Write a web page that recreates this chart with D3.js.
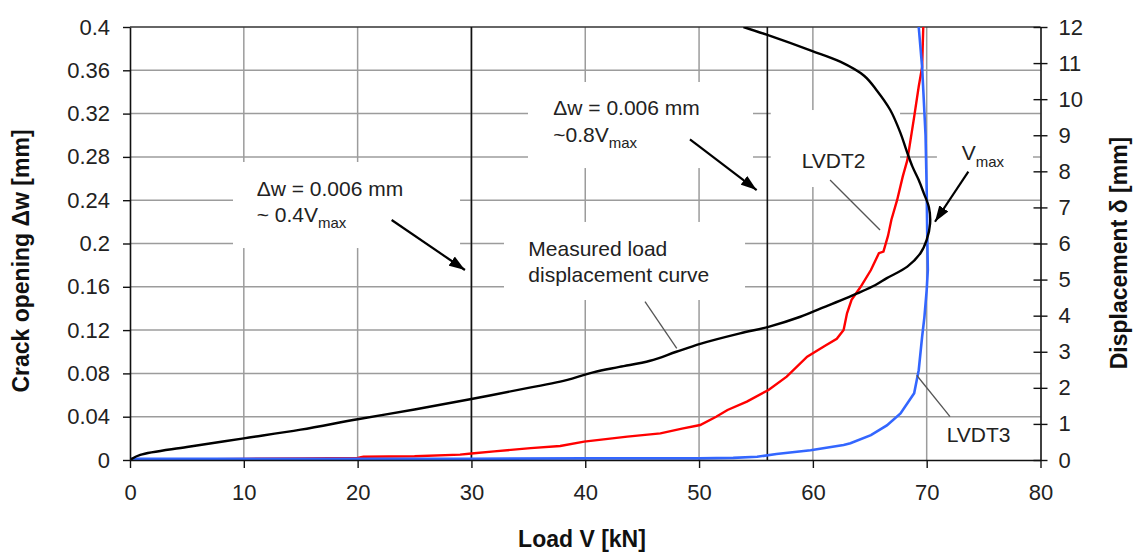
<!DOCTYPE html>
<html>
<head>
<meta charset="utf-8">
<script src="https://cdn.jsdelivr.net/npm/d3@7"></script>
<style>
  html, body { margin: 0; padding: 0; background: #fff; }
  svg { display: block; font-family: "Liberation Sans", Arial, sans-serif; }
</style>
</head>
<body>
<svg id="chart" width="1134" height="552"></svg>
<script>
// ---------- data ----------
const xTicks = [0, 10, 20, 30, 40, 50, 60, 70, 80];
const xTickLabels = ["0", "10", "20", "30", "40", "50", "60", "70", "80"];
const leftTicks = [0, 0.04, 0.08, 0.12, 0.16, 0.2, 0.24, 0.28, 0.32, 0.36, 0.4];
const leftTickLabels = ["0", "0.04", "0.08", "0.12", "0.16", "0.2", "0.24", "0.28", "0.32", "0.36", "0.4"];
const rightTicks = [0, 1, 2, 3, 4, 5, 6, 7, 8, 9, 10, 11, 12];
const rightTickLabels = ["0", "1", "2", "3", "4", "5", "6", "7", "8", "9", "10", "11", "12"];

// Measured load-displacement curve (load V [kN], displacement δ [mm], right axis)
const measuredLoad = [0, 0.9, 5, 10, 15, 20, 25, 30, 35, 37.8, 40.7, 43, 45.7, 48, 50.1, 53.6, 56.1, 58.9, 60.7, 63.9, 65.5, 66.5, 68.3, 69.45, 70.0, 70.3, 70.2, 69.75, 69.3, 68.75, 68.2, 67.7, 66.8, 65.6, 64.5, 62.4, 59.9, 56.0, 53.9];
const measuredDisp = [0, 0.14, 0.36, 0.60, 0.84, 1.13, 1.40, 1.69, 2.0, 2.17, 2.43, 2.58, 2.75, 3.0, 3.22, 3.51, 3.69, 3.97, 4.2, 4.62, 4.85, 5.04, 5.36, 5.73, 6.10, 6.55, 7.0, 7.39, 7.76, 8.13, 8.6, 9.06, 9.70, 10.25, 10.65, 11.04, 11.34, 11.78, 12.0];

// LVDT2 (load V [kN], crack opening Δw [mm], left axis)
const lvdt2Load = [0, 5, 10, 15, 20, 20.5, 25, 29, 30, 32, 35.2, 37.8, 39.9, 43.7, 46.6, 48.5, 50.1, 51.5, 52.5, 54.2, 56.1, 57.7, 59.5, 61.0, 62.1, 62.7, 63.0, 63.4, 64.2, 65.1, 65.8, 66.2, 66.6, 66.9, 67.4, 67.9, 68.3, 68.9, 69.3, 69.6, 69.7];
const lvdt2Open = [0, 0.0005, 0.001, 0.0015, 0.002, 0.003, 0.0035, 0.005, 0.006, 0.008, 0.011, 0.0129, 0.017, 0.0216, 0.0246, 0.029, 0.0323, 0.04, 0.0462, 0.0539, 0.0647, 0.077, 0.0954, 0.105, 0.112, 0.120, 0.1355, 0.148, 0.160, 0.1755, 0.191, 0.1925, 0.207, 0.222, 0.240, 0.262, 0.277, 0.317, 0.345, 0.363, 0.40];

// LVDT3 (load V [kN], crack opening Δw [mm], left axis)
const lvdt3Load = [0, 10, 20, 30, 40, 50, 53, 55.1, 56.8, 59.8, 62.7, 63.3, 65.1, 66.5, 67.7, 68.9, 69.3, 69.6, 69.8, 70.0, 70.1, 70.05, 70.0, 69.9, 69.6, 69.3];
const lvdt3Open = [0.001, 0.001, 0.001, 0.0012, 0.0015, 0.0015, 0.002, 0.003, 0.0055, 0.009, 0.0139, 0.0154, 0.023, 0.032, 0.043, 0.0616, 0.083, 0.114, 0.132, 0.157, 0.1755, 0.209, 0.25, 0.30, 0.363, 0.40];

// Reference load levels (vertical lines)
const refLoads = [30, 56];

// ---------- layout ----------
const svg = d3.select("#chart");
const L = 130, R = 1040.5, T = 27, B = 460;
const x = d3.scaleLinear().domain([0, 80]).range([L, R]);
const yL = d3.scaleLinear().domain([0, 0.4]).range([B, T]);
const yR = d3.scaleLinear().domain([0, 12]).range([B, T]);

const textColor = "#222";
const gridColor = "#9c9c9c";

// ---------- grid ----------
const grid = svg.append("g");
grid.selectAll(".gx").data(xTicks.filter(d => d > 0 && d < 80)).join("line")
  .attr("x1", d => x(d)).attr("x2", d => x(d)).attr("y1", T).attr("y2", B)
  .attr("stroke", gridColor).attr("stroke-width", 1.5);
grid.selectAll(".gy").data(leftTicks.filter(d => d > 0 && d < 0.4)).join("line")
  .attr("x1", L).attr("x2", R).attr("y1", d => yL(d)).attr("y2", d => yL(d))
  .attr("stroke", gridColor).attr("stroke-width", 1.5);

// white label backgrounds (interrupt grid) in data units [V0, V1, w0, w1]
const boxes = [
  [9.05, 29.0, 0.1958, 0.2753],
  [34.97, 54.74, 0.2697, 0.3492],
  [32.86, 54.04, 0.1478, 0.2199],
  [56.3, 67.66, 0.2522, 0.3233],
  [70.9, 79.34, 0.2494, 0.3048]
];
svg.append("g").selectAll("rect").data(boxes).join("rect")
  .attr("x", d => x(d[0])).attr("y", d => yL(d[3]))
  .attr("width", d => x(d[1]) - x(d[0])).attr("height", d => yL(d[2]) - yL(d[3]))
  .attr("fill", "#fff");

// top border
svg.append("line").attr("x1", L).attr("x2", R).attr("y1", T).attr("y2", T)
  .attr("stroke", "#333").attr("stroke-width", 1.5);

// vertical reference lines
svg.append("g").selectAll("line").data(refLoads).join("line")
  .attr("x1", d => x(d)).attr("x2", d => x(d)).attr("y1", T).attr("y2", B)
  .attr("stroke", "#111").attr("stroke-width", 1.6);

// ---------- series ----------
svg.append("clipPath").attr("id", "clip").append("rect")
  .attr("x", L).attr("y", T).attr("width", R - L).attr("height", B - T);
const plot = svg.append("g").attr("clip-path", "url(#clip)");

const lineL = d3.line().x(d => x(d[0])).y(d => yL(d[1]));
const lineR = d3.line().x(d => x(d[0])).y(d => yR(d[1])).curve(d3.curveCatmullRom.alpha(0.5));

plot.append("path").datum(lvdt2Load.map((v, i) => [v, lvdt2Open[i]]))
  .attr("d", lineL).attr("fill", "none").attr("stroke", "#ff0000").attr("stroke-width", 2.4);
plot.append("path").datum(lvdt3Load.map((v, i) => [v, lvdt3Open[i]]))
  .attr("d", lineL).attr("fill", "none").attr("stroke", "#3366ff").attr("stroke-width", 2.6);
plot.append("path").datum(measuredLoad.map((v, i) => [v, measuredDisp[i]]))
  .attr("d", lineR).attr("fill", "none").attr("stroke", "#000").attr("stroke-width", 2.4)
  .attr("stroke-linejoin", "round");

// ---------- axes ----------
const fontTick = "22px";
const axB = svg.append("g").attr("transform", `translate(0,${B})`)
  .call(d3.axisBottom(x).tickValues(xTicks).tickFormat((d, i) => xTickLabels[i]).tickSize(8).tickSizeOuter(0));
axB.selectAll("text").attr("y", 24).attr("font-size", fontTick).attr("fill", textColor).attr("font-family", "Liberation Sans, Arial, sans-serif");

const axLft = svg.append("g").attr("transform", `translate(${L},0)`)
  .call(d3.axisLeft(yL).tickValues(leftTicks).tickFormat((d, i) => leftTickLabels[i]).tickSize(7).tickSizeOuter(0));
axLft.selectAll("text").attr("x", -20).attr("font-size", fontTick).attr("fill", textColor).attr("font-family", "Liberation Sans, Arial, sans-serif");

const axRgt = svg.append("g").attr("transform", `translate(${R},0)`)
  .call(d3.axisRight(yR).tickValues(rightTicks).tickFormat((d, i) => rightTickLabels[i]).tickSize(7).tickSizeOuter(0));
axRgt.selectAll("line").attr("x1", -7);
axRgt.selectAll("text").attr("x", 18).attr("font-size", fontTick).attr("fill", textColor).attr("font-family", "Liberation Sans, Arial, sans-serif");

[axB, axLft, axRgt].forEach(a => {
  a.select(".domain").attr("stroke", "#111").attr("stroke-width", 1.6);
  a.selectAll(".tick line").attr("stroke", "#111").attr("stroke-width", 1.4);
});

// ---------- axis titles ----------
svg.append("text").attr("x", 582).attr("y", 547).attr("text-anchor", "middle")
  .attr("font-size", "23px").attr("font-weight", "bold").attr("fill", "#111").text("Load V [kN]");
svg.append("text").attr("transform", "translate(29,261) rotate(-90)").attr("text-anchor", "middle")
  .attr("font-size", "23px").attr("font-weight", "bold").attr("fill", "#111").text("Crack opening Δw [mm]");
svg.append("text").attr("transform", "translate(1127,253) rotate(-90)").attr("text-anchor", "middle")
  .attr("font-size", "23px").attr("font-weight", "bold").attr("fill", "#111").text("Displacement δ [mm]");

// ---------- annotations ----------
const ann = svg.append("g").attr("font-size", "21px").attr("fill", textColor);
function label(V, w, main, sub) {
  const t = ann.append("text").attr("x", x(V)).attr("y", yL(w));
  t.append("tspan").text(main);
  if (sub) t.append("tspan").attr("font-size", "15px").attr("dy", 6.6).text(sub);
}
label(11.13, 0.2439, "Δw = 0.006 mm");
label(11.13, 0.2201, "~ 0.4V", "max");
label(37.19, 0.3187, "Δw = 0.006 mm");
label(37.19, 0.2940, "~0.8V", "max");
label(35.0, 0.1885, "Measured load");
label(35.0, 0.1647, "displacement curve");
label(59.02, 0.2695, "LVDT2");
label(73.08, 0.2771, "V", "max");
label(71.76, 0.01635, "LVDT3");

// arrow marker
svg.append("defs").append("marker").attr("id", "arrow")
  .attr("markerUnits", "userSpaceOnUse").attr("markerWidth", 17).attr("markerHeight", 12)
  .attr("refX", 16).attr("refY", 6).attr("orient", "auto")
  .append("path").attr("d", "M0,0.5L16,6L0,11.5Z").attr("fill", "#000");

const arrows = [
  [22.99, 0.2217, 29.43, 0.1755],
  [49.20, 0.2963, 55.06, 0.2494],
  [73.66, 0.2663, 70.73, 0.2201]
];
svg.append("g").selectAll("line").data(arrows).join("line")
  .attr("x1", d => x(d[0])).attr("y1", d => yL(d[1]))
  .attr("x2", d => x(d[2])).attr("y2", d => yL(d[3]))
  .attr("stroke", "#000").attr("stroke-width", 2.2).attr("marker-end", "url(#arrow)");

const leaders = [
  [61.51, 0.2587, 65.90, 0.2125],
  [69.12, 0.0783, 72.05, 0.0400],
  [45.25, 0.1462, 48.04, 0.1032]
];
svg.append("g").selectAll("line").data(leaders).join("line")
  .attr("x1", d => x(d[0])).attr("y1", d => yL(d[1]))
  .attr("x2", d => x(d[2])).attr("y2", d => yL(d[3]))
  .attr("stroke", "#555").attr("stroke-width", 1.3);
</script>
</body>
</html>
